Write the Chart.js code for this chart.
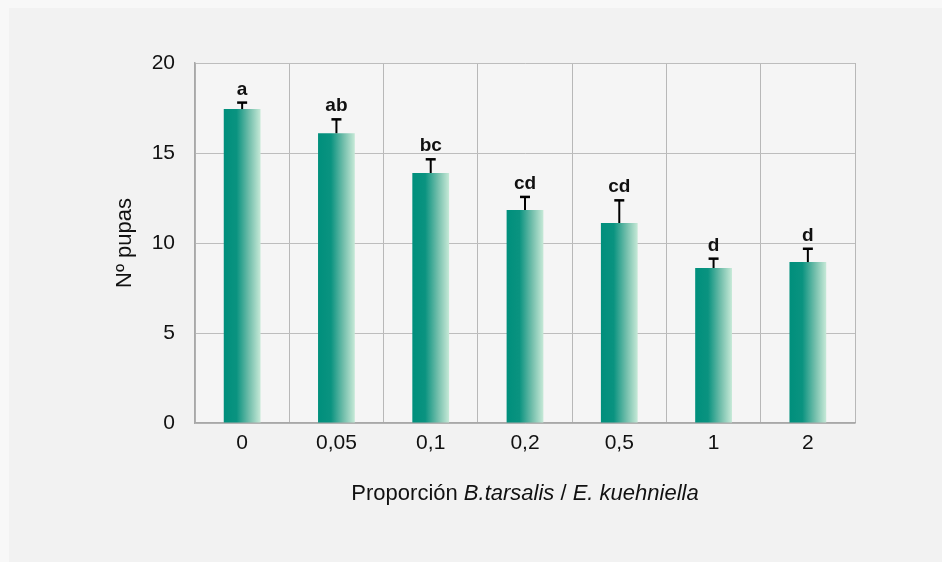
<!DOCTYPE html>
<html>
<head>
<meta charset="utf-8">
<script src="https://cdn.jsdelivr.net/npm/chart.js@4/dist/chart.umd.min.js"></script>
<style>
  body { margin: 0; background: #f8f8f8; }
  #wrap { position: absolute; left: 9px; top: 8px; width: 933px; height: 554px; background: #f2f2f2; }
</style>
</head>
<body>
<div id="wrap"><canvas id="myChart"></canvas></div>
<script>
const categories = ['0', '0,05', '0,1', '0,2', '0,5', '1', '2'];
const pupas = [17.44, 16.1, 13.89, 11.83, 11.11, 8.61, 8.94];
const errors = [0.36, 0.77, 0.76, 0.73, 1.26, 0.52, 0.74];
const letters = ['a', 'ab', 'bc', 'cd', 'cd', 'd', 'd'];
const yTicks = [0, 5, 10, 15, 20];

const barPct = 0.39;
const font = 'Liberation Sans, Arial, Helvetica, sans-serif';

// one horizontal gradient per bar
function barFill(c) {
    const chart = c.chart;
    const x = chart.scales.x;
    if (!x || !chart.chartArea) return '#009080';
    const cx = x.getPixelForValue(c.dataIndex);
    const half = (x.width / categories.length) * barPct / 2;
    const g = chart.ctx.createLinearGradient(cx - half, 0, cx + half, 0);
    g.addColorStop(0, '#008f7c');
    g.addColorStop(0.35, '#0a9380');
    g.addColorStop(0.7, '#74bfac');
    g.addColorStop(1, '#c6e9d7');
    return g;
}

const plotBg = {
    id: 'plotBg',
    beforeDraw(chart) {
        const a = chart.chartArea, ctx = chart.ctx;
        ctx.save();
        ctx.fillStyle = '#f5f5f5';
        ctx.fillRect(a.left, a.top, a.right - a.left, a.bottom - a.top);
        ctx.restore();
    }
};

const errorBars = {
    id: 'errorBars',
    afterDatasetsDraw(chart) {
        const ctx = chart.ctx, y = chart.scales.y;
        const meta = chart.getDatasetMeta(0);
        ctx.save();
        ctx.strokeStyle = '#000';
        meta.data.forEach((bar, i) => {
            const top = y.getPixelForValue(pupas[i] + errors[i]);
            ctx.lineWidth = 2;
            ctx.beginPath();
            ctx.moveTo(bar.x, bar.y);
            ctx.lineTo(bar.x, top);
            ctx.stroke();
            ctx.lineWidth = 2.5;
            ctx.beginPath();
            ctx.moveTo(bar.x - 5, top);
            ctx.lineTo(bar.x + 5, top);
            ctx.stroke();
            ctx.fillStyle = '#111';
            ctx.font = 'bold 19px ' + font;
            ctx.textAlign = 'center';
            ctx.textBaseline = 'alphabetic';
            ctx.fillText(letters[i], bar.x, top - 8);
        });
        ctx.restore();
    }
};

const xTitle = {
    id: 'xTitle',
    afterDraw(chart) {
        const ctx = chart.ctx, a = chart.chartArea;
        const parts = [
            ['Proporción ', ''],
            ['B.tarsalis', 'italic '],
            [' / ', ''],
            ['E. kuehniella', 'italic ']
        ];
        ctx.save();
        ctx.fillStyle = '#111';
        ctx.textBaseline = 'alphabetic';
        ctx.textAlign = 'left';
        let total = 0;
        parts.forEach(p => { ctx.font = p[1] + '22px ' + font; total += ctx.measureText(p[0]).width; });
        let x = (a.left + a.right) / 2 - total / 2;
        parts.forEach(p => {
            ctx.font = p[1] + '22px ' + font;
            ctx.fillText(p[0], x, a.bottom + 77);
            x += ctx.measureText(p[0]).width;
        });
        ctx.restore();
    }
};

const ctx = document.getElementById('myChart').getContext('2d');
const myChart = new Chart(ctx, {
    type: 'bar',
    data: {
        labels: categories,
        datasets: [{
            label: 'Nº pupas',
            data: pupas,
            backgroundColor: barFill,
            borderWidth: 0,
            barPercentage: barPct,
            categoryPercentage: 1
        }]
    },
    options: {
        responsive: true,
        maintainAspectRatio: false,
        animation: false,
        layout: { padding: { top: 55, right: 87, left: 0, bottom: 99 } },
        plugins: {
            legend: { display: false },
            tooltip: { enabled: false }
        },
        scales: {
            x: {
                afterFit: s => { s.height = 40; },
                grid: { color: '#b8b8b8', drawTicks: false, offset: true },
                border: { color: '#a8a8a8', width: 1.5 },
                ticks: { color: '#111', padding: 8, font: { family: font, size: 21 } }
            },
            y: {
                min: 0,
                max: 20,
                afterFit: s => { s.width = 186; },
                afterBuildTicks: s => { s.ticks = yTicks.map(v => ({ value: v })); },
                grid: { color: '#bdbdbd', drawTicks: false },
                border: { color: '#a8a8a8', width: 1.5 },
                ticks: { color: '#111', padding: 20, font: { family: font, size: 21 } },
                title: {
                    display: true,
                    text: 'Nº pupas',
                    color: '#111',
                    padding: { top: 103, bottom: 0 },
                    font: { family: font, size: 22 }
                }
            }
        }
    },
    plugins: [plotBg, errorBars, xTitle]
});
</script>
</body>
</html>
